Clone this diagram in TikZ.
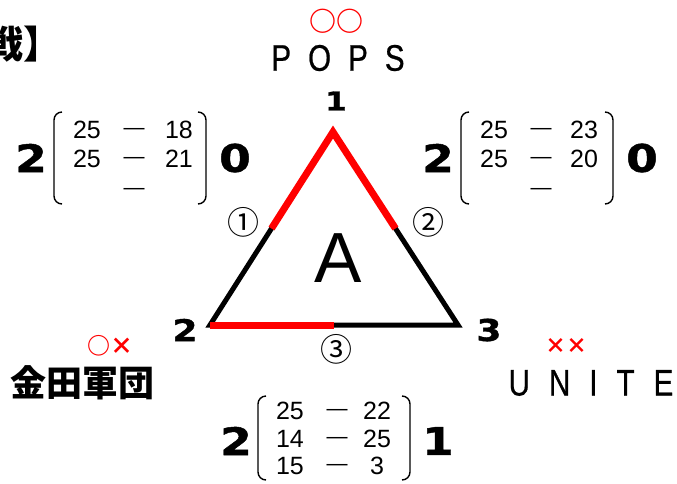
\documentclass[tikz,border=0pt]{standalone}
\usepackage{fontspec}
\usetikzlibrary{calc}
\setmainfont{Liberation Sans}
\newfontfamily\narrowfont{Liberation Sans}[FakeStretch=0.8,FakeBold=0.6]
\newfontfamily\heavyfont{DejaVu Sans Bold}[FakeStretch=1.2,FakeBold=1.2]
\newfontfamily\jpfont{Noto Sans CJK JP}
\definecolor{markred}{RGB}{255,0,0}
\newcommand{\fs}[1]{\fontsize{#1}{#1}\selectfont}

\begin{document}
\begin{tikzpicture}[x=1pt,y=-1pt,inner sep=0pt,
    score/.style={font=\fs{25}},
    setnum/.style={font=\heavyfont\fs{38}},
    vertnum/.style={font=\heavyfont\fs{30}},
    resmark/.style={text=markred,font=\jpfont\bfseries\fs{23}},
    circnum/.style={font=\jpfont\fs{32}},
    paren/.style={line width=1.4pt,rounded corners=8pt}]
  \useasboundingbox (0,0) rectangle (677,483);
  % triangulo de la liga
  \coordinate (t1) at (333,132);
  \coordinate (t2) at (210,325);
  \coordinate (t3) at (458,325);
  \draw[line width=5pt] (t1) -- (t2) -- (t3) -- cycle;
  \draw[markred,line width=7pt] ($(t1)!0.5!(t2)$) -- (t1) -- ($(t1)!0.5!(t3)$);
  \draw[markred,line width=7pt] (t2) -- ($(t2)!0.5!(t3)$);
  \node[font=\fs{71}] (grp) at (338,258) {A};
  \node[vertnum,font=\heavyfont\fs{26}] (v1) at (336,101) {1};
  \node[vertnum] (v2) at (185,330) {2};
  \node[vertnum] (v3) at (489,330) {3};
  \node[circnum] (m1) at (243,222) {①};
  \node[circnum] (m2) at (428,222) {②};
  \node[circnum] (m3) at (336,349) {③};
  % equipos
  \node[font=\jpfont\bfseries\fs{38},anchor=east] (ttl) at (62,44) {戦】};
  \node[resmark,font=\jpfont\bfseries\fs{27}] (rA) at (336,21) {○○};
  \node[font=\narrowfont\fs{37}] (tA) at (338,58) {P\hspace{17pt}O\hspace{17pt}P\hspace{17pt}S};
  \node[resmark] (rB) at (110,346) {○×};
  \node[font=\jpfont\bfseries\fs{36}] (tB) at (82,383) {金田軍団};
  \node[resmark,font=\jpfont\bfseries\fs{21}] (rC) at (566,346) {××};
  \node[font=\narrowfont\fs{37}] (tC) at (591,383) {U\hspace{19pt}N\hspace{19pt}I\hspace{19pt}T\hspace{19pt}E};
  % marcadores (fila y / puntos izq / puntos der)
  \foreach \y/\a/\b [count=\i] in {130/25/18,159/25/21,190//} {
    \node[score] (la\i) at (87,\y) {\a};
    \node[score,font=\fs{21}] (ld\i) at (134,\y+1) {—};
    \node[score] (lb\i) at (179,\y) {\b};
  }
  \draw[paren] (62,112) -| (54,204) -- (62,204);
  \draw[paren] (198,112) -| (206,204) -- (198,204);
  \node[setnum] (ls1) at (31,158) {2};
  \node[setnum] (ls2) at (235,158) {0};
  \foreach \y/\a/\b [count=\i] in {130/25/23,159/25/20,190//} {
    \node[score] (ra\i) at (494,\y) {\a};
    \node[score,font=\fs{21}] (rd\i) at (541,\y+1) {—};
    \node[score] (rb\i) at (584,\y) {\b};
  }
  \draw[paren] (469,112) -| (461,204) -- (469,204);
  \draw[paren] (605,112) -| (613,204) -- (605,204);
  \node[setnum] (rs1) at (438,158) {2};
  \node[setnum] (rs2) at (642,158) {0};
  \foreach \y/\a/\b [count=\i] in {411/25/22,439/14/25,466/15/3} {
    \node[score] (ba\i) at (290,\y) {\a};
    \node[score,font=\fs{21}] (bd\i) at (337,\y+1) {—};
    \node[score] (bb\i) at (377,\y) {\b};
  }
  \draw[paren] (266,396) -| (258,480) -- (266,480);
  \draw[paren] (402,396) -| (410,480) -- (402,480);
  \node[setnum] (bs1) at (236,441) {2};
  \node[setnum] (bs2) at (438,441) {1};
\end{tikzpicture}
\end{document}
